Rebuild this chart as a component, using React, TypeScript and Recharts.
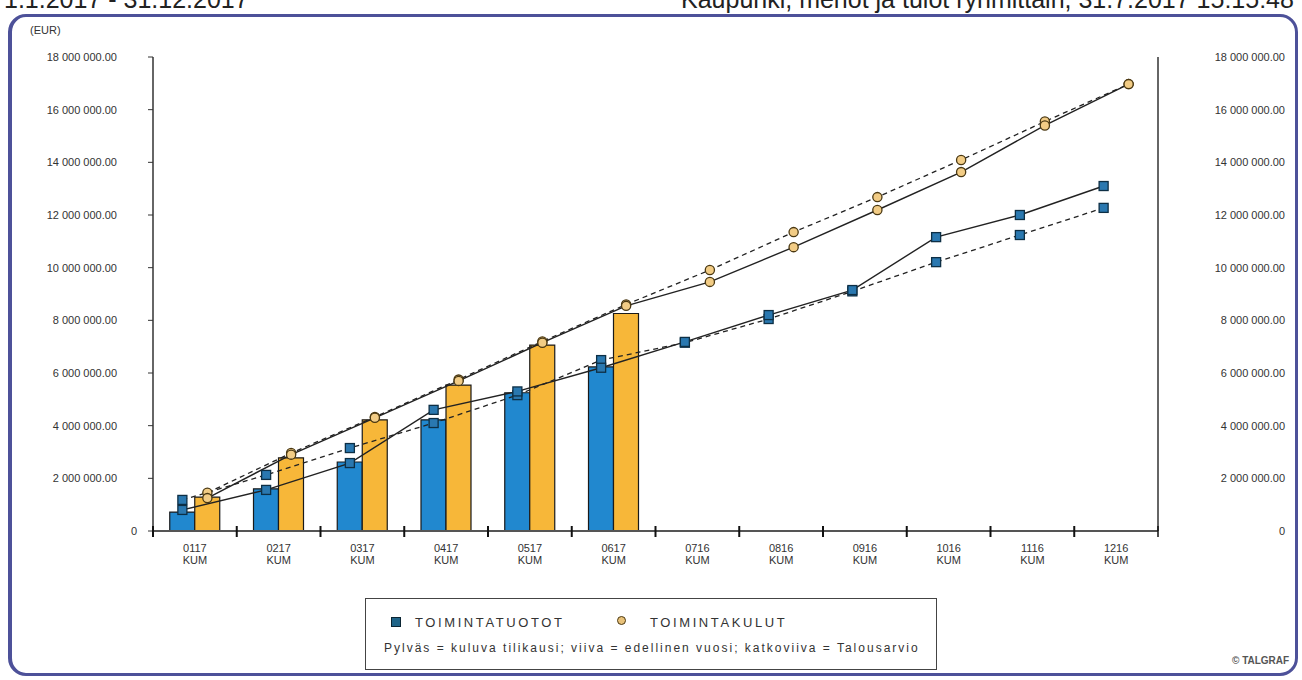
import { ComposedChart, Bar, Line, XAxis, YAxis } from 'recharts'

const months = ['0117', '0217', '0317', '0417', '0517', '0617', '0716', '0816', '0916', '1016', '1116', '1216']
const tuototBar = [720000, 1600000, 2620000, 4220000, 5250000, 6230000, null, null, null, null, null, null]
const kulutBar = [1290000, 2780000, 4220000, 5540000, 7060000, 8260000, null, null, null, null, null, null]
const tuototPrev = [800000, 1560000, 2580000, 4600000, 5300000, 6200000, 7180000, 8200000, 9150000, 11160000, 12000000, 13100000]
const tuototBudget = [1180000, 2130000, 3150000, 4100000, 5160000, 6490000, 7150000, 8050000, 9100000, 10210000, 11240000, 12270000]
const kulutPrev = [1250000, 2900000, 4300000, 5700000, 7150000, 8550000, 9460000, 10780000, 12190000, 13630000, 15400000, 16970000]
const kulutBudget = [1450000, 2960000, 4330000, 5750000, 7200000, 8600000, 9910000, 11350000, 12680000, 14090000, 15550000, 16970000]
const yTicks = [0, 2000000, 4000000, 6000000, 8000000, 10000000, 12000000, 14000000, 16000000, 18000000]

const data = months.map((m, i) => ({
  month: m,
  tuototBar: tuototBar[i],
  kulutBar: kulutBar[i],
  tuototPrev: tuototPrev[i],
  tuototBudget: tuototBudget[i],
  kulutPrev: kulutPrev[i],
  kulutBudget: kulutBudget[i],
}))

const FONT = '"Liberation Sans", Arial, sans-serif'
const BLUE = '#2188cf'
const ORANGE = '#f7b739'

const fmt = (v: number) =>
  v === 0 ? '0' : String(v).replace(/\B(?=(\d{3})+(?!\d))/g, ' ') + '.00'

function SquareDot({ cx, cy }: any) {
  if (cx == null || cy == null) return null
  return <rect x={cx - 4.5} y={cy - 4.5} width={9} height={9} fill="#2a78b0" stroke="#0d2f45" strokeWidth={1.3} />
}

function CircleDot({ cx, cy }: any) {
  if (cx == null || cy == null) return null
  return <circle cx={cx} cy={cy} r={4.6} fill="#f2cc85" stroke="#4a3812" strokeWidth={1.3} />
}

function MonthTick({ x, y, payload, index }: any) {
  const half = payload?.offset || 41.9
  return (
    <g>
      <line x1={x - half} x2={x - half} y1={y - 5} y2={y + 6} stroke="#111" strokeWidth={2} />
      {index === months.length - 1 && (
        <line x1={x + half} x2={x + half} y1={y - 5} y2={y + 6} stroke="#111" strokeWidth={1.5} />
      )}
      <text x={x} y={y + 21} textAnchor="middle" fontSize={11} fill="#333" fontFamily={FONT}>{payload.value}</text>
      <text x={x} y={y + 33} textAnchor="middle" fontSize={11} fill="#333" fontFamily={FONT}>KUM</text>
    </g>
  )
}

function LeftTick({ x, y, payload }: any) {
  const isZero = payload.value === 0
  return (
    <text x={isZero ? x + 20 : x} y={y + 4} textAnchor="end" fontSize={11} fill="#333" fontFamily={FONT}>
      {fmt(payload.value)}
    </text>
  )
}

function RightTick({ x, y, payload }: any) {
  return (
    <text x={x + 127} y={y + 4} textAnchor="end" fontSize={11} fill="#333" fontFamily={FONT}>
      {fmt(payload.value)}
    </text>
  )
}

export default function App() {
  return (
    <div style={{ position: 'absolute', left: 0, top: 0, width: 1302, height: 680, overflow: 'hidden', background: '#fff', fontFamily: FONT }}>
      <div style={{ position: 'absolute', left: 4, top: -15, fontSize: 25, lineHeight: '28px', color: '#222', whiteSpace: 'nowrap' }}>
        1.1.2017 - 31.12.2017
      </div>
      <div style={{ position: 'absolute', left: 681, top: -15, fontSize: 25, lineHeight: '28px', color: '#222', whiteSpace: 'nowrap' }}>
        Kaupunki, menot ja tulot ryhmittäin, 31.7.2017 15:15:48
      </div>
      <div style={{ position: 'absolute', left: 8, top: 14, width: 1290, height: 662, border: '3px solid #4d5199', borderLeftWidth: 4, borderRadius: 18, boxSizing: 'border-box' }} />
      <div style={{ position: 'absolute', left: 30, top: 24, fontSize: 11, color: '#333' }}>(EUR)</div>

      <div style={{ position: 'absolute', left: 0, top: 0 }}>
        <ComposedChart
          width={1302}
          height={680}
          data={data}
          margin={{ top: 57, right: 0, left: 0, bottom: 119 }}
          barCategoryGap="20%"
          barGap={0}
        >
          <XAxis
            dataKey="month"
            height={30}
            axisLine={{ stroke: '#555', strokeWidth: 2 }}
            tickLine={false}
            tickSize={0}
            tickMargin={0}
            interval={0}
            tick={<MonthTick />}
          />
          <XAxis xAxisId="sq" dataKey="month" hide padding={{ left: -12.5, right: 12.5 }} />
          <XAxis xAxisId="ci" dataKey="month" hide padding={{ left: 12.5, right: -12.5 }} />
          <YAxis
            yAxisId="left"
            width={153}
            domain={[0, 18000000]}
            ticks={yTicks}
            interval={0}
            axisLine={{ stroke: '#333', strokeWidth: 1.5 }}
            tickLine={{ stroke: '#333' }}
            tickSize={5}
            tickMargin={31}
            tick={<LeftTick />}
          />
          <YAxis
            yAxisId="right"
            orientation="right"
            width={144}
            domain={[0, 18000000]}
            ticks={yTicks}
            interval={0}
            axisLine={{ stroke: '#333', strokeWidth: 1.5 }}
            tickLine={false}
            tickSize={0}
            tickMargin={0}
            tick={<RightTick />}
          />
          <Bar yAxisId="left" dataKey="tuototBar" fill={BLUE} stroke="#1a1a1a" strokeWidth={1.2} isAnimationActive={false} />
          <Bar yAxisId="right" dataKey="kulutBar" fill={ORANGE} stroke="#1a1a1a" strokeWidth={1.2} isAnimationActive={false} />
          <Line yAxisId="left" xAxisId="sq" dataKey="tuototBudget" stroke="#222" strokeWidth={1.3} strokeDasharray="5 4" dot={<SquareDot />} activeDot={false} isAnimationActive={false} type="linear" />
          <Line yAxisId="left" xAxisId="sq" dataKey="tuototPrev" stroke="#222" strokeWidth={1.4} dot={<SquareDot />} activeDot={false} isAnimationActive={false} type="linear" />
          <Line yAxisId="right" xAxisId="ci" dataKey="kulutBudget" stroke="#222" strokeWidth={1.3} strokeDasharray="5 4" dot={<CircleDot />} activeDot={false} isAnimationActive={false} type="linear" />
          <Line yAxisId="right" xAxisId="ci" dataKey="kulutPrev" stroke="#222" strokeWidth={1.4} dot={<CircleDot />} activeDot={false} isAnimationActive={false} type="linear" />
        </ComposedChart>
      </div>

      <div style={{ position: 'absolute', left: 365, top: 598, width: 572, height: 72, border: '1.5px solid #444', boxSizing: 'border-box', fontSize: 13, color: '#333', whiteSpace: 'nowrap' }}>
        <div style={{ position: 'absolute', left: 25, top: 18, width: 8, height: 8, background: '#1f6488', border: '1px solid #0b2533' }} />
        <div style={{ position: 'absolute', left: 49, top: 16, letterSpacing: 2.6 }}>TOIMINTATUOTOT</div>
        <div style={{ position: 'absolute', left: 251, top: 17, width: 7, height: 7, borderRadius: '50%', background: '#e9c27a', border: '1.5px solid #4a3812' }} />
        <div style={{ position: 'absolute', left: 284, top: 16, letterSpacing: 2.6 }}>TOIMINTAKULUT</div>
        <div style={{ position: 'absolute', left: 18, top: 42, fontSize: 12, letterSpacing: 2 }}>
          Pylväs = kuluva tilikausi; viiva = edellinen vuosi; katkoviiva = Talousarvio
        </div>
      </div>
      <div style={{ position: 'absolute', left: 1232, top: 655, fontSize: 10, fontWeight: 'bold', color: '#555' }}>© TALGRAF</div>
    </div>
  )
}
